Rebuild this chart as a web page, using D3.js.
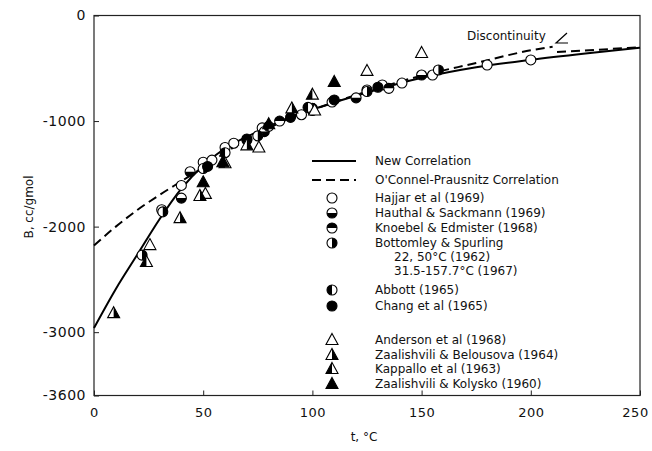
<!DOCTYPE html>
<html>
<head>
<meta charset="utf-8">
<script src="https://cdn.jsdelivr.net/npm/d3@7"></script>
<style>
  body { margin: 0; background: #fff; }
  svg text { font-family: "DejaVu Sans", sans-serif; fill: #111; }
</style>
</head>
<body>
<svg id="chart" width="652" height="451"></svg>
<script>
// tick values
var xTicks = [0, 50, 100, 150, 200, 250];
var yTicks = [0, -1000, -2000, -3000, -3600];

// correlations: [t degC, B cc/gmol]
var newCorr = [[0,-2960],[10,-2590],[20,-2260],[30,-1930],[40,-1640],[50,-1420],[60,-1260],[75,-1100],[90,-960],[100,-890],[125,-730],[150,-590],[175,-490],[200,-420],[225,-360],[250,-305]];
var oconnelA = [[0,-2180],[10,-2000],[20,-1840],[30,-1700],[40,-1570],[50,-1440],[60,-1300],[75,-1120],[90,-970],[100,-895],[125,-720],[150,-570],[175,-450],[200,-330],[210,-297]];
var oconnelB = [[212,-345],[230,-325],[250,-300]];

// experimental points
var hajjar   = [[31,-1840],[40,-1610],[50,-1390],[54,-1370],[60,-1250],[64,-1210],[77,-1065],[95,-940],[109,-820],[125,-706],[132,-658],[141,-640],[155,-564],[180,-469],[200,-421]];
var hauthal  = [[40,-1730],[44,-1480],[78,-1100],[120,-780],[150,-564]];
var knoebel  = [[70,-1170],[85,-1000],[100,-880],[135,-690]];
var bottomley= [[22,-2270],[31.5,-1860],[50,-1450],[75,-1140],[100,-900],[125,-720],[157.7,-516]];
var abbott   = [[60,-1300],[80,-1050],[98,-870]];
var chang    = [[52,-1430],[70,-1180],[90,-965],[110,-800],[130,-680]];
var anderson = [[25.6,-2175],[51,-1690],[75.5,-1250],[101,-900],[125,-525],[150,-355]];
var zaalBel  = [[9,-2820],[39.4,-1920],[48.5,-1710],[70,-1230],[90.6,-880]];
var kappallo = [[24,-2335],[60,-1400],[100,-750]];
var zaalKol  = [[50,-1580],[59,-1390],[80,-1030],[110,-630]];

var legendRows = [
  {label: "Hajjar et al (1969)", data: hajjar, shape: "circle", fill: "open"},
  {label: "Hauthal & Sackmann (1969)", data: hauthal, shape: "circle", fill: "bottom"},
  {label: "Knoebel & Edmister (1968)", data: knoebel, shape: "circle", fill: "top"},
  {label: "Bottomley & Spurling", data: bottomley, shape: "circle", fill: "right"},
  {label: "Abbott (1965)", data: abbott, shape: "circle", fill: "left"},
  {label: "Chang et al (1965)", data: chang, shape: "circle", fill: "full"},
  {label: "Anderson et al (1968)", data: anderson, shape: "triangle", fill: "open"},
  {label: "Zaalishvili & Belousova (1964)", data: zaalBel, shape: "triangle", fill: "right"},
  {label: "Kappallo et al (1963)", data: kappallo, shape: "triangle", fill: "left"},
  {label: "Zaalishvili & Kolysko (1960)", data: zaalKol, shape: "triangle", fill: "full"}
];
var legendY = [198, 213, 228, 243, 290, 306, 340, 355, 369, 384];

var svg = d3.select("#chart");
var plotL = 94, plotR = 640, plotT = 15.5, plotB = 395.5;

var x = d3.scaleLinear().domain([0, 250]).range([plotL, plotR]);
var y = d3.scaleLinear().domain([-3600, 0]).range([plotB, plotT]);

// frame
svg.append("rect")
  .attr("x", plotL).attr("y", plotT)
  .attr("width", plotR - plotL).attr("height", plotB - plotT)
  .style("fill", "none").style("stroke", "#222").style("stroke-width", 1.2);

var xAxisG = svg.append("g")
  .attr("transform", "translate(0," + plotB + ")")
  .call(d3.axisBottom(x).tickValues(xTicks).tickFormat(String).tickSizeInner(-5).tickSizeOuter(0).tickPadding(12))
  .call(function(g){ g.select(".domain").remove(); });
xAxisG.selectAll("text").style("font-size", "13px").style("letter-spacing", "0.5px")
  .attr("dx", function(d){ return d == 250 ? -5 : 0; });

svg.append("g")
  .attr("transform", "translate(" + plotL + ",0)")
  .call(d3.axisLeft(y).tickValues(yTicks).tickFormat(String).tickSizeInner(-5).tickSizeOuter(0).tickPadding(8))
  .call(function(g){ g.select(".domain").remove(); })
  .selectAll("text").style("font-size", "14px").style("letter-spacing", "0.5px");

svg.selectAll(".tick line").style("stroke", "#222");

// axis titles
svg.append("text")
  .attr("transform", "translate(33,207) rotate(-90)")
  .style("text-anchor", "middle").style("font-size", "12px")
  .text("B,  cc/gmol");
svg.append("text")
  .attr("x", 364).attr("y", 441)
  .style("text-anchor", "middle").style("font-size", "12px")
  .text("t,  \u00b0C");

// curves
var line = d3.line().x(function(d){ return x(d[0]); }).y(function(d){ return y(d[1]); }).curve(d3.curveMonotoneX);
svg.append("path").datum(newCorr).attr("d", line)
  .style("fill", "none").style("stroke", "#000").style("stroke-width", 2);
[oconnelA, oconnelB].forEach(function(seg){
  svg.append("path").datum(seg).attr("d", line)
    .style("fill", "none").style("stroke", "#000").style("stroke-width", 2)
    .style("stroke-dasharray", "9,5");
});

// marker drawing
var R = 5;
function clipFor(fill, shape) {
  // rectangle (relative to centre) holding the black part
  var h = shape == "triangle" ? 7 : R + 1;
  if (fill == "top") return [-h, -h, 2 * h, h];
  if (fill == "bottom") return [-h, 0, 2 * h, h];
  if (fill == "left") return [-h, -h, h, 2 * h];
  if (fill == "right") return [0, -h, h, 2 * h];
  return null;
}
var triPath = "M0,-6.5L6,4.5L-6,4.5Z";
var clipId = 0;
function drawMarker(g, shape, fill) {
  var outline;
  if (shape == "circle") {
    outline = g.append("circle").attr("r", R);
  } else {
    outline = g.append("path").attr("d", triPath);
  }
  outline.style("fill", fill == "full" ? "#000" : "#fff")
    .style("stroke", "#000").style("stroke-width", 1.1);
  var r = clipFor(fill, shape);
  if (r) {
    var id = "c" + (clipId++);
    g.append("clipPath").attr("id", id).append("rect")
      .attr("x", r[0]).attr("y", r[1]).attr("width", r[2]).attr("height", r[3]);
    var inner = shape == "circle" ? g.append("circle").attr("r", R) : g.append("path").attr("d", triPath);
    inner.attr("clip-path", "url(#" + id + ")").style("fill", "#000");
  }
}

legendRows.forEach(function(s){
  s.data.forEach(function(d){
    var g = svg.append("g").attr("transform", "translate(" + x(d[0]) + "," + y(d[1]) + ")");
    drawMarker(g, s.shape, s.fill);
  });
});

// legend
var lg = svg.append("g");
lg.append("line").attr("x1", 312).attr("x2", 356).attr("y1", 161).attr("y2", 161)
  .style("stroke", "#000").style("stroke-width", 2);
lg.append("text").attr("x", 375).attr("y", 165).style("font-size", "12px").text("New Correlation");
lg.append("line").attr("x1", 312).attr("x2", 356).attr("y1", 180).attr("y2", 180)
  .style("stroke", "#000").style("stroke-width", 2).style("stroke-dasharray", "9,5");
lg.append("text").attr("x", 375).attr("y", 184).style("font-size", "12px").text("O'Connel-Prausnitz Correlation");

legendRows.forEach(function(s, i){
  var g = lg.append("g").attr("transform", "translate(332," + legendY[i] + ")");
  drawMarker(g, s.shape, s.fill);
  lg.append("text").attr("x", 375).attr("y", legendY[i] + 4).style("font-size", "12px").text(s.label);
});
lg.append("text").attr("x", 394).attr("y", 261).style("font-size", "12px").text("22, 50\u00b0C (1962)");
lg.append("text").attr("x", 394).attr("y", 275).style("font-size", "12px").text("31.5-157.7\u00b0C (1967)");

// discontinuity note
svg.append("text").attr("x", 467).attr("y", 40).style("font-size", "12px").text("Discontinuity");
svg.append("path").attr("d", "M567,33L556,43L568,43")
  .style("fill", "none").style("stroke", "#000").style("stroke-width", 1.2);
</script>
</body>
</html>
